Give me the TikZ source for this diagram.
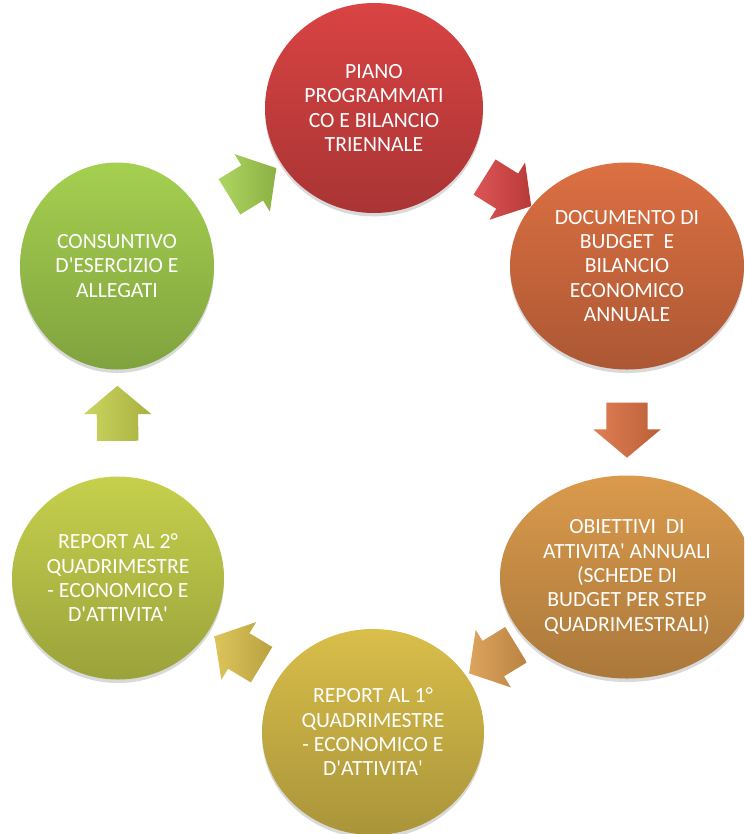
\documentclass[tikz,border=0pt]{standalone}
\usepackage{fontspec}
\setsansfont{Carlito}
\usetikzlibrary{shapes.geometric,shapes.arrows,shadows}

\definecolor{pianoRed}{HTML}{D94343}
\definecolor{budgetRust}{HTML}{DC7042}
\definecolor{obiettiviOrange}{HTML}{DA9A4C}
\definecolor{reportGold}{HTML}{D9BE4A}
\definecolor{reportOlive}{HTML}{C6D04C}
\definecolor{consuntivoGreen}{HTML}{A5D050}

\tikzset{
  phase/.style={ellipse, inner sep=0pt, top color=#1, bottom color=#1!78!black,
    text=white, align=center, font=\sffamily\fontsize{18.5}{20.8}\selectfont,
    drop shadow={opacity=0.3, shadow xshift=0pt, shadow yshift=-3pt}},
  flow/.style={single arrow, sloped, allow upside down, inner xsep=0pt, inner ysep=0.615cm,
    minimum height=1.65cm, single arrow head extend=0.39cm, single arrow tip angle=100,
    left color=#1!90!white, right color=#1!85!black}
}
\newcommand{\ap}{\textquotesingle}

\begin{document}
\begin{tikzpicture}[x=0.03cm,y=-0.03cm,font=\sffamily]
	%frame
	\clip (0,0) rectangle (744,834);

	%phases
	\node[phase=pianoRed, minimum width=6.54cm, minimum height=6.3cm] (piano) at (374,108)
	  {PIANO\\PROGRAMMATI\\CO E BILANCIO\\TRIENNALE};
	\node[phase=budgetRust, minimum width=7.02cm, minimum height=6.21cm] (budget) at (627,266)
	  {DOCUMENTO DI\\BUDGET\ \ E\\BILANCIO\\ECONOMICO\\ANNUALE};
	\node[phase=obiettiviOrange, minimum width=7.62cm, minimum height=6.09cm] (obiettivi) at (627,577)
	  {OBIETTIVI\ \ DI\\ATTIVITA\ap{} ANNUALI\\(SCHEDE DI\\BUDGET PER STEP\\QUADRIMESTRALI)};
	\node[phase=reportGold, minimum width=6.66cm, minimum height=6.18cm] (report1) at (373,732)
	  {REPORT AL 1°\\QUADRIMESTRE\\- ECONOMICO E\\D\ap{}ATTIVITA\ap};
	\node[phase=reportOlive, minimum width=6.36cm, minimum height=6.09cm] (report2) at (118,578)
	  {REPORT AL 2°\\QUADRIMESTRE\\- ECONOMICO E\\D\ap{}ATTIVITA\ap};
	\node[phase=consuntivoGreen, minimum width=5.82cm, minimum height=6.21cm] (consuntivo) at (117,266)
	  {CONSUNTIVO\\D\ap{}ESERCIZIO E\\ALLEGATI};

	%arrows
	\path (piano.center) -- node[flow=pianoRed] (toBudget) {} (budget.center);
	\path (budget.center) -- node[flow=budgetRust] (toObiettivi) {} (obiettivi.center);
	\path (obiettivi.center) -- node[flow=obiettiviOrange] (toReport1) {} (report1.center);
	\path (report1.center) -- node[flow=reportGold] (toReport2) {} (report2.center);
	\path (report2.center) -- node[flow=reportOlive] (toConsuntivo) {} (consuntivo.center);
	\path (consuntivo.center) -- node[flow=consuntivoGreen] (toPiano) {} (piano.center);
\end{tikzpicture}
\end{document}
